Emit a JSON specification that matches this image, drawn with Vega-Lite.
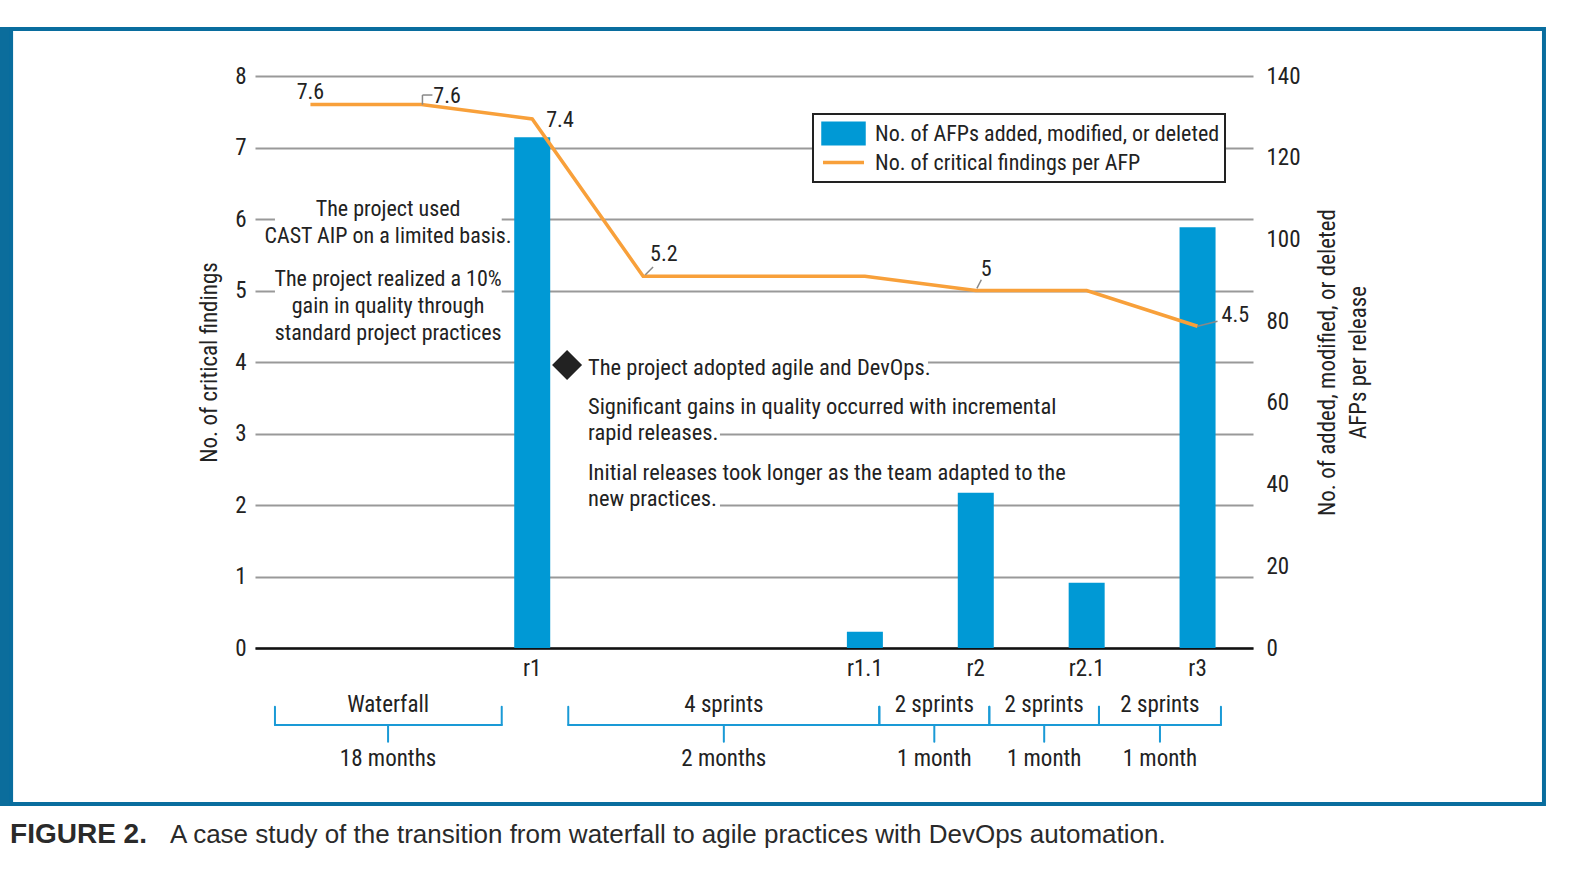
{
  "$schema": "https://vega.github.io/schema/vega-lite/v6.json",
  "autosize": {"type": "none"},
  "padding": {"left": 255, "top": 76, "right": 320, "bottom": 230},
  "width": 998,
  "height": 572,
  "background": "white",
  "config": {
    "font": "Liberation Sans Narrow, Roboto Condensed, DejaVu Sans Condensed, sans-serif",
    "view": {"stroke": null},
    "text": {"fontSize": 22, "color": "#222"}
  },
  "datasets": {
    "releases": [
      {"slot": 2, "release": "r1", "afp": 125},
      {"slot": 5, "release": "r1.1", "afp": 4},
      {"slot": 6, "release": "r2", "afp": 38},
      {"slot": 7, "release": "r2.1", "afp": 16},
      {"slot": 8, "release": "r3", "afp": 103}
    ],
    "findings": [
      {"slot": 0, "findings": 7.6},
      {"slot": 1, "findings": 7.6},
      {"slot": 2, "findings": 7.4},
      {"slot": 3, "findings": 5.2},
      {"slot": 5, "findings": 5.2},
      {"slot": 6, "findings": 5.0},
      {"slot": 7, "findings": 5.0},
      {"slot": 8, "findings": 4.5}
    ],
    "phases": [
      {"phase": "Waterfall", "duration": "18 months", "start": -0.32, "mid": 0.70, "end": 1.725},
      {"phase": "4 sprints", "duration": "2 months", "start": 2.325, "mid": 3.728, "end": 5.13},
      {"phase": "2 sprints", "duration": "1 month", "start": 5.13, "mid": 5.626, "end": 6.122},
      {"phase": "2 sprints", "duration": "1 month", "start": 6.122, "mid": 6.617, "end": 7.111},
      {"phase": "2 sprints", "duration": "1 month", "start": 7.111, "mid": 7.661, "end": 8.211}
    ],
    "note": [{}]
  },
  "resolve": {"scale": {"y": "independent"}},
  "layer": [
    {
      "layer": [
        {
          "data": {"name": "note"},
          "mark": {"type": "rect", "fill": "white"},
          "encoding": {
            "x": {"datum": -0.32, "type": "quantitative", "scale": {"domain": [-0.5, 8.5], "nice": false, "zero": false, "padding": 0}},
            "x2": {"datum": 1.725},
            "y": {"datum": 110.1, "type": "quantitative", "scale": {"domain": [0, 140], "nice": false, "padding": 0}},
            "y2": {"datum": 74.2}
          }
        },
        {
          "data": {"name": "note"},
          "mark": {"type": "rect", "fill": "white"},
          "encoding": {
            "x": {"datum": 2.12, "type": "quantitative"},
            "x2": {"datum": 5.569},
            "y": {"datum": 72.9, "type": "quantitative"},
            "y2": {"datum": 66.6}
          }
        },
        {
          "data": {"name": "note"},
          "mark": {"type": "rect", "fill": "white"},
          "encoding": {
            "x": {"datum": 2.12, "type": "quantitative"},
            "x2": {"datum": 3.693},
            "y": {"datum": 55.8, "type": "quantitative"},
            "y2": {"datum": 49.4}
          }
        },
        {
          "data": {"name": "note"},
          "mark": {"type": "rect", "fill": "white"},
          "encoding": {
            "x": {"datum": 2.12, "type": "quantitative"},
            "x2": {"datum": 3.693},
            "y": {"datum": 38.7, "type": "quantitative"},
            "y2": {"datum": 32.3}
          }
        },
        {
          "data": {"name": "releases"},
          "mark": {"type": "bar", "width": 36},
          "encoding": {
            "x": {"field": "slot", "type": "quantitative", "scale": {"domain": [-0.5, 8.5], "nice": false, "zero": false, "padding": 0}},
            "y": {
              "field": "afp", "type": "quantitative",
              "scale": {"domain": [0, 140], "nice": false, "padding": 0},
              "axis": {
                "orient": "right",
                "values": [0, 20, 40, 60, 80, 100, 120, 140],
                "grid": false, "domain": false, "ticks": false,
                "labelFontSize": 23, "labelColor": "#222", "labelPadding": 13,
                "title": ["No. of added, modified, or deleted", "AFPs per release"],
                "titleFontSize": 23, "titleFontWeight": "normal", "titleColor": "#222",
                "titleAngle": 270, "titlePadding": 8, "titleLineHeight": 31
              }
            },
            "color": {
              "datum": "No. of AFPs added, modified, or deleted",
              "scale": {
                "domain": ["No. of AFPs added, modified, or deleted", "No. of critical findings per AFP"],
                "range": ["#0099d5", "#f8a03a"]
              },
              "legend": {
                "orient": "none", "legendX": 558, "legendY": 38,
                "title": null, "strokeColor": "#222", "fillColor": "white",
                "padding": 5, "symbolOffset": 9, "symbolSize": 841, "labelOffset": 15,
                "labelFontSize": 22, "labelColor": "#222", "labelLimit": 600, "rowPadding": 0, "clipHeight": 29,
                "encode": {
                  "legend": {"update": {"strokeWidth": {"value": 2}}},
                  "symbols": {
                    "update": {
                      "shape": {"signal": "datum.value === 'No. of AFPs added, modified, or deleted' ? 'M-1.414,-0.707H1.414V0.707H-1.414Z' : 'M-1.414,0H1.414'"},
                      "fill": {"signal": "datum.value === 'No. of AFPs added, modified, or deleted' ? '#0099d5' : 'transparent'"},
                      "stroke": {"signal": "datum.value === 'No. of AFPs added, modified, or deleted' ? 'transparent' : '#f8a03a'"},
                      "strokeWidth": {"value": 3.5},
                      "opacity": {"value": 1}
                    }
                  }
                }
              }
            }
          }
        }
      ]
    },
    {
      "layer": [
        {
          "data": {"name": "findings"},
          "mark": {"type": "line", "strokeWidth": 3.5},
          "encoding": {
            "x": {
              "field": "slot", "type": "quantitative",
              "scale": {"domain": [-0.5, 8.5], "nice": false, "zero": false, "padding": 0},
              "axis": {"domain": true, "domainColor": "#111", "domainWidth": 2.5, "labels": false, "ticks": false, "grid": false, "title": null}
            },
            "y": {
              "field": "findings", "type": "quantitative",
              "scale": {"domain": [0, 8], "nice": false, "padding": 0},
              "axis": {
                "orient": "left",
                "values": [0, 1, 2, 3, 4, 5, 6, 7, 8], "format": "d",
                "grid": true, "gridColor": "#999", "gridWidth": 2,
                "domain": false, "ticks": false,
                "labelFontSize": 23, "labelColor": "#222", "labelPadding": 9,
                "title": "No. of critical findings",
                "titleFontSize": 23, "titleFontWeight": "normal", "titleColor": "#222", "titlePadding": 13
              }
            },
            "color": {"datum": "No. of critical findings per AFP"}
          }
        },
        {
          "data": {"name": "note"},
          "mark": {"type": "rule", "color": "#888", "strokeWidth": 1.5},
          "encoding": {"x": {"datum": 1.01, "type": "quantitative"}, "y": {"datum": 7.6, "type": "quantitative"}, "y2": {"datum": 7.734}}
        },
        {
          "data": {"name": "note"},
          "mark": {"type": "rule", "color": "#888", "strokeWidth": 1.5},
          "encoding": {"x": {"datum": 1.01, "type": "quantitative"}, "x2": {"datum": 1.1}, "y": {"datum": 7.734, "type": "quantitative"}}
        },
        {
          "data": {"name": "note"},
          "mark": {"type": "rule", "color": "#888", "strokeWidth": 1.5},
          "encoding": {"x": {"datum": 3.02, "type": "quantitative"}, "x2": {"datum": 3.09}, "y": {"datum": 5.22, "type": "quantitative"}, "y2": {"datum": 5.33}}
        },
        {
          "data": {"name": "note"},
          "mark": {"type": "rule", "color": "#888", "strokeWidth": 1.5},
          "encoding": {"x": {"datum": 6.01, "type": "quantitative"}, "x2": {"datum": 6.05}, "y": {"datum": 5.03, "type": "quantitative"}, "y2": {"datum": 5.15}}
        },
        {
          "data": {"name": "note"},
          "mark": {"type": "rule", "color": "#888", "strokeWidth": 1.5},
          "encoding": {"x": {"datum": 8.0, "type": "quantitative"}, "x2": {"datum": 8.18}, "y": {"datum": 4.5, "type": "quantitative"}, "y2": {"datum": 4.57}}
        },
        {
          "data": {"name": "findings"},
          "transform": [{"filter": "datum.slot === 0"}],
          "mark": {"type": "text", "align": "center", "baseline": "middle", "dy": -13},
          "encoding": {"x": {"field": "slot", "type": "quantitative"}, "y": {"field": "findings", "type": "quantitative"}, "text": {"field": "findings", "type": "quantitative", "format": ".1f"}}
        },
        {
          "data": {"name": "findings"},
          "transform": [{"filter": "datum.slot === 1"}],
          "mark": {"type": "text", "align": "left", "baseline": "middle", "dx": 12, "dy": -9},
          "encoding": {"x": {"field": "slot", "type": "quantitative"}, "y": {"field": "findings", "type": "quantitative"}, "text": {"field": "findings", "type": "quantitative", "format": ".1f"}}
        },
        {
          "data": {"name": "findings"},
          "transform": [{"filter": "datum.slot === 2"}],
          "mark": {"type": "text", "align": "left", "baseline": "middle", "dx": 14, "dy": 1},
          "encoding": {"x": {"field": "slot", "type": "quantitative"}, "y": {"field": "findings", "type": "quantitative"}, "text": {"field": "findings", "type": "quantitative", "format": ".1f"}}
        },
        {
          "data": {"name": "findings"},
          "transform": [{"filter": "datum.slot === 3"}],
          "mark": {"type": "text", "align": "left", "baseline": "middle", "dx": 7, "dy": -22},
          "encoding": {"x": {"field": "slot", "type": "quantitative"}, "y": {"field": "findings", "type": "quantitative"}, "text": {"field": "findings", "type": "quantitative", "format": ".1f"}}
        },
        {
          "data": {"name": "findings"},
          "transform": [{"filter": "datum.slot === 6"}],
          "mark": {"type": "text", "align": "left", "baseline": "middle", "dx": 5, "dy": -22},
          "encoding": {"x": {"field": "slot", "type": "quantitative"}, "y": {"field": "findings", "type": "quantitative"}, "text": {"field": "findings", "type": "quantitative", "format": "d"}}
        },
        {
          "data": {"name": "findings"},
          "transform": [{"filter": "datum.slot === 8"}],
          "mark": {"type": "text", "align": "left", "baseline": "middle", "dx": 24, "dy": -11},
          "encoding": {"x": {"field": "slot", "type": "quantitative"}, "y": {"field": "findings", "type": "quantitative"}, "text": {"field": "findings", "type": "quantitative", "format": ".1f"}}
        },
        {
          "data": {"name": "releases"},
          "mark": {"type": "text", "align": "center", "baseline": "alphabetic", "fontSize": 23},
          "encoding": {"x": {"field": "slot", "type": "quantitative"}, "y": {"datum": -0.392, "type": "quantitative"}, "text": {"field": "release"}}
        },
        {
          "data": {"name": "note"},
          "mark": {"type": "text", "align": "center", "baseline": "alphabetic", "lineHeight": 27},
          "encoding": {"x": {"datum": 0.70, "type": "quantitative"}, "y": {"datum": 6.042, "type": "quantitative"}, "text": {"value": ["The project used", "CAST AIP on a limited basis."]}}
        },
        {
          "data": {"name": "note"},
          "mark": {"type": "text", "align": "center", "baseline": "alphabetic", "lineHeight": 27},
          "encoding": {"x": {"datum": 0.70, "type": "quantitative"}, "y": {"datum": 5.063, "type": "quantitative"}, "text": {"value": ["The project realized a 10%", "gain in quality through", "standard project practices"]}}
        },
        {
          "data": {"name": "note"},
          "mark": {"type": "point", "shape": "diamond", "size": 900, "filled": true, "color": "#222", "opacity": 1},
          "encoding": {"x": {"datum": 2.314, "type": "quantitative"}, "y": {"datum": 3.958, "type": "quantitative"}}
        },
        {
          "data": {"name": "note"},
          "mark": {"type": "text", "align": "left", "baseline": "alphabetic", "lineHeight": 26, "fontSize": 22.5},
          "encoding": {"x": {"datum": 2.503, "type": "quantitative"}, "y": {"datum": 3.825, "type": "quantitative"}, "text": {"value": "The project adopted agile and DevOps."}}
        },
        {
          "data": {"name": "note"},
          "mark": {"type": "text", "align": "left", "baseline": "alphabetic", "lineHeight": 26, "fontSize": 22.5},
          "encoding": {"x": {"datum": 2.503, "type": "quantitative"}, "y": {"datum": 3.266, "type": "quantitative"}, "text": {"value": ["Significant gains in quality occurred with incremental", "rapid releases."]}}
        },
        {
          "data": {"name": "note"},
          "mark": {"type": "text", "align": "left", "baseline": "alphabetic", "lineHeight": 26, "fontSize": 22.5},
          "encoding": {"x": {"datum": 2.503, "type": "quantitative"}, "y": {"datum": 2.343, "type": "quantitative"}, "text": {"value": ["Initial releases took longer as the team adapted to the", "new practices."]}}
        },
        {
          "data": {"name": "phases"},
          "mark": {"type": "rule", "color": "#1a9ad6", "strokeWidth": 2, "strokeCap": "round"},
          "encoding": {"x": {"field": "start", "type": "quantitative"}, "x2": {"field": "end"}, "y": {"datum": -1.077, "type": "quantitative"}}
        },
        {
          "data": {"name": "phases"},
          "mark": {"type": "rule", "color": "#1a9ad6", "strokeWidth": 2, "strokeCap": "round"},
          "encoding": {"x": {"field": "start", "type": "quantitative"}, "y": {"datum": -0.821, "type": "quantitative"}, "y2": {"datum": -1.077}}
        },
        {
          "data": {"name": "phases"},
          "mark": {"type": "rule", "color": "#1a9ad6", "strokeWidth": 2, "strokeCap": "round"},
          "encoding": {"x": {"field": "end", "type": "quantitative"}, "y": {"datum": -0.821, "type": "quantitative"}, "y2": {"datum": -1.077}}
        },
        {
          "data": {"name": "phases"},
          "mark": {"type": "rule", "color": "#1a9ad6", "strokeWidth": 2, "strokeCap": "round"},
          "encoding": {"x": {"field": "mid", "type": "quantitative"}, "y": {"datum": -1.077, "type": "quantitative"}, "y2": {"datum": -1.31}}
        },
        {
          "data": {"name": "phases"},
          "mark": {"type": "text", "align": "center", "baseline": "alphabetic", "fontSize": 23},
          "encoding": {"x": {"field": "mid", "type": "quantitative"}, "y": {"datum": -0.895, "type": "quantitative"}, "text": {"field": "phase"}}
        },
        {
          "data": {"name": "phases"},
          "mark": {"type": "text", "align": "center", "baseline": "alphabetic", "fontSize": 23},
          "encoding": {"x": {"field": "mid", "type": "quantitative"}, "y": {"datum": -1.65, "type": "quantitative"}, "text": {"field": "duration"}}
        },
        {
          "data": {"name": "note"},
          "mark": {"type": "rect", "color": "#0b6d9c"},
          "encoding": {"x": {"datum": -2.8, "type": "quantitative"}, "x2": {"datum": -2.682}, "y": {"datum": 8.685, "type": "quantitative"}, "y2": {"datum": -2.21}}
        },
        {
          "data": {"name": "note"},
          "mark": {"type": "rect", "filled": false, "color": "#096d9e", "strokeWidth": 4},
          "encoding": {"x": {"datum": -2.70, "type": "quantitative"}, "x2": {"datum": 11.124}, "y": {"datum": 8.657, "type": "quantitative"}, "y2": {"datum": -2.182}}
        },
        {
          "data": {"name": "note"},
          "mark": {"type": "text", "align": "left", "baseline": "alphabetic", "font": "Liberation Sans", "fontSize": 28, "fontWeight": "bold", "color": "#2a2a2a"},
          "encoding": {"x": {"datum": -2.709, "type": "quantitative"}, "y": {"datum": -2.727, "type": "quantitative"}, "text": {"value": "FIGURE 2."}}
        },
        {
          "data": {"name": "note"},
          "mark": {"type": "text", "align": "left", "baseline": "alphabetic", "font": "Liberation Sans", "fontSize": 26, "color": "#2a2a2a"},
          "encoding": {"x": {"datum": -1.2665, "type": "quantitative"}, "y": {"datum": -2.727, "type": "quantitative"}, "text": {"value": "A case study of the transition from waterfall to agile practices with DevOps automation."}}
        }
      ]
    }
  ]
}
